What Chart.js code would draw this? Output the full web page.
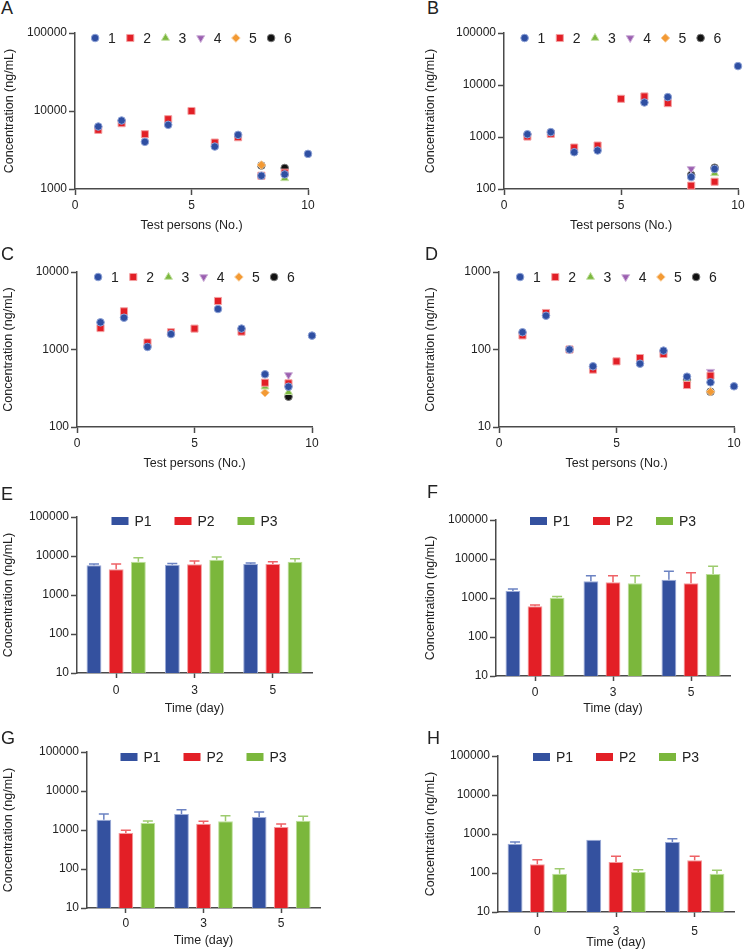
<!DOCTYPE html>
<html>
<head>
<meta charset="utf-8">
<script src="https://cdn.jsdelivr.net/npm/chart.js@4.4.1/dist/chart.umd.min.js"></script>
<style>
  body { margin: 0; background: #fff; width: 745px; height: 951px; position: relative; overflow: hidden;
         font-family: "Liberation Sans", Arial, sans-serif; }
  .box { position: absolute; }
  .tag { position: absolute; font-size: 18px; line-height: 18px; color: #222; }
</style>
</head>
<body>
<script>
'use strict';
// ---- data ----
let persons = [1, 2, 3, 4, 5, 6, 7, 8, 9, 10];
let seriesNames = ['1', '2', '3', '4', '5', '6'];
let xTicks = [0, 5, 10];

// panel A
let a1 = [6320, 7550, 4020, 6640, null, 3500, 4940, 1480, 1540, 2820];
let a2 = [5730, 6980, 5040, 7850, 10000, 3940, 4610, 1480, 1620, null];
let a3 = [null, null, null, null, null, null, null, null, 1370, null];
let a4 = [null, null, null, null, null, null, null, null, null, null];
let a5 = [null, null, null, null, null, null, null, 2030, null, null];
let a6 = [null, null, null, null, null, null, null, 2000, 1860, null];
let yTicksA = [1000, 10000, 100000];

// panel B
let b1 = [1130, 1240, 510, 550, null, 4610, 5850, 170, 243, 23100];
let b2 = [1020, 1150, 627, 685, 5430, 6020, 4480, 116, 138, null];
let b3 = [null, null, null, null, null, null, null, null, 200, null];
let b4 = [null, null, null, null, null, null, null, 243, null, null];
let b5 = [null, null, null, null, null, null, null, null, null, null];
let b6 = [null, null, null, null, null, null, null, 186, 257, null];
let yTicksB = [100, 1000, 10000, 100000];

// panel C
let c1 = [2240, 2570, 1080, 1580, null, 3330, 1860, 479, 331, 1510];
let c2 = [1890, 3110, 1230, 1670, 1860, 4230, 1700, 373, 366, null];
let c3 = [null, null, null, null, null, null, null, 331, 281, null];
let c4 = [null, null, null, null, null, null, null, null, 469, null];
let c5 = [null, null, null, null, null, null, null, 277, null, null];
let c6 = [null, null, null, null, null, null, null, null, 246, null];
let yTicksC = [100, 1000, 10000];

// panel D
let d1 = [167, 273, 100, 60.7, null, 65.6, 96.6, 44.6, 37.7, 33.5];
let d2 = [152, 296, 100, 55, 70.3, 77.6, 87.5, 34.8, 45.9, null];
let d3 = [null, null, null, null, null, null, null, 40.4, null, null];
let d4 = [null, null, null, null, null, null, null, null, 51.7, null];
let d5 = [null, null, null, null, null, null, null, null, 28.5, null];
let d6 = [null, null, null, null, null, null, null, 40.4, 28.5, null];
let yTicksD = [10, 100, 1000];

// bar panels
let days = ['0', '3', '5'];
let groupNames = ['P1', 'P2', 'P3'];
let yTicksBar = [10, 100, 1000, 10000, 100000];

let eP1 = [5770, 5940, 6240], eP1sd = [470, 500, 410];
let eP2 = [4550, 6100, 6240], eP2sd = [1690, 1350, 920];
let eP3 = [7160, 8050, 7160], eP3sd = [1900, 1370, 1390];

let fP1 = [1510, 2670, 2950], fP1sd = [190, 1070, 1880];
let fP2 = [611, 2520, 2380], fP2sd = [51, 1220, 2080];
let fP3 = [1020, 2380, 4120], fP3sd = [80, 1360, 2370];

let gP1 = [1840, 2570, 2160], gP1sd = [730, 750, 740];
let gP2 = [838, 1450, 1190], gP2sd = [142, 220, 240];
let gP3 = [1510, 1670, 1730], gP3sd = [190, 660, 510];

let hP1 = [565, 716, 624], hP1sd = [59, 0, 135];
let hP2 = [167, 191, 211], hP2sd = [53, 76, 56];
let hP3 = [96, 106, 96], hP3sd = [33, 16, 21];

// ---- styles ----
const AXIS = '#4a4a4a';
const TXT = '#222';
const FONT = '"Liberation Sans", Arial, sans-serif';
let ptStyle = ['circle', 'rect', 'triangle', 'triangle', 'rectRot', 'circle'];
let ptRot = [0, 0, 0, 180, 0, 0];
let ptRad = [3.8, 5, 4.6, 4.6, 4.3, 3.8];
let ptFill = ['#2f4fa2', '#e21f26', '#7cb83f', '#9b5fb0', '#f39a34', '#111111'];
let ptEdge = ['#8ea2d6', '#f3a0a2', '#c4e0a4', '#cdb0d8', '#f8cc9a', '#777777'];
let barFill = ['#34519f', '#e31f26', '#7bb73c'];
let barEdge = ['#9aaad8', '#f49a9c', '#bde09a'];
let errCol = ['#6b82c2', '#ee6266', '#9dcb6e'];

Chart.defaults.font.family = FONT;
Chart.defaults.color = TXT;

const insideLegend = {
  id: 'insideLegend',
  afterDraw(chart, args, o) {
    const ctx = chart.ctx, area = chart.chartArea;
    const sets = chart.data.datasets;
    const span = o.markW + (sets.length - 1) * o.pitch + o.textDx - o.markW / 2 + o.textW;
    const x0 = (area.left + area.right) / 2 - span / 2 + o.markW / 2;
    const y = area.top + o.dy;
    ctx.save();
    ctx.font = '14px ' + FONT;
    ctx.textBaseline = 'middle';
    ctx.textAlign = 'left';
    sets.forEach((ds, i) => {
      const x = x0 + i * o.pitch;
      ctx.fillStyle = ds.backgroundColor;
      ctx.strokeStyle = ds.borderColor;
      ctx.lineWidth = 1;
      if (o.kind === 'bar') {
        ctx.fillRect(x - 8.5, y - 4, 17, 8);
      } else {
        Chart.helpers.drawPoint(ctx, {pointStyle: ds.pointStyle, rotation: ds.pointRotation || 0,
          radius: ds.pointRadius, borderWidth: 1}, x, y);
      }
      ctx.fillStyle = TXT;
      ctx.fillText(ds.label, x + o.textDx, y + 1);
    });
    ctx.restore();
  }
};

const errorBars = {
  id: 'errorBars',
  afterDatasetsDraw(chart) {
    const ctx = chart.ctx, yS = chart.scales.y;
    chart.data.datasets.forEach((ds, i) => {
      if (!ds.sd) return;
      const meta = chart.getDatasetMeta(i);
      ctx.save();
      ctx.strokeStyle = ds.errColor;
      ctx.lineWidth = 1.5;
      meta.data.forEach((bar, j) => {
        if (!ds.sd[j]) return;
        const yTop = yS.getPixelForValue(ds.data[j] + ds.sd[j]);
        ctx.beginPath();
        ctx.moveTo(bar.x, bar.y);
        ctx.lineTo(bar.x, yTop);
        ctx.moveTo(bar.x - 5, yTop);
        ctx.lineTo(bar.x + 5, yTop);
        ctx.stroke();
      });
      ctx.restore();
    });
  }
};

function place(g) {
  g.cl = Math.round(g.yTC - 7.5);
  g.ct = g.T - 12;
  g.cr = Math.min(g.R + 14, 745);
  g.cb = Math.round(g.xTC + 7.5);
  const div = document.createElement('div');
  div.className = 'box';
  div.style.left = g.cl + 'px';
  div.style.top = g.ct + 'px';
  div.style.width = (g.cr - g.cl) + 'px';
  div.style.height = (g.cb - g.ct) + 'px';
  const cv = document.createElement('canvas');
  cv.width = g.cr - g.cl;
  cv.height = g.cb - g.ct;
  div.appendChild(cv);
  document.body.appendChild(div);
  const tag = document.createElement('div');
  tag.className = 'tag';
  tag.textContent = g.tag;
  tag.style.left = g.tagX + 'px';
  tag.style.top = g.tagY + 'px';
  document.body.appendChild(tag);
  return cv;
}

function yAxis(g, ticks) {
  return {
    type: 'logarithmic', min: ticks[0], max: ticks[ticks.length - 1],
    border: {display: true, color: AXIS, width: 1.5},
    grid: {display: true, drawOnChartArea: false, drawTicks: true, tickLength: 6, tickColor: AXIS, tickWidth: 1.5},
    ticks: {font: {size: 12}, color: TXT, padding: 2, autoSkip: false, callback: v => String(v)},
    afterBuildTicks: s => { s.ticks = ticks.map(v => ({value: v})); },
    afterFit: s => { s.width = g.L - g.cl; s.paddingTop = 0; s.paddingBottom = 0; },
    title: {display: true, text: 'Concentration (ng/mL)', font: {size: 12.5}, color: TXT, padding: 0}
  };
}

function xCommon(g, tl, titleText) {
  return {
    border: {display: true, color: AXIS, width: 1.5},
    grid: {display: true, drawOnChartArea: false, drawTicks: true, tickLength: tl, tickColor: AXIS, tickWidth: 1.5, offset: false},
    ticks: {font: {size: 12}, color: TXT, padding: Math.max(0, g.xLC - g.B - tl - 6), autoSkip: false, maxRotation: 0,
      callback: function (v, i) { return this.type === 'category' ? this.getLabelForValue(v) : String(v); }},
    afterFit: s => { s.height = g.cb - g.B; s.paddingLeft = 0; s.paddingRight = 0; },
    title: {display: true, text: titleText, font: {size: 12.5}, color: TXT, padding: 0}
  };
}

function scatterPanel(g, series, yTicks) {
  const cv = place(g);
  const datasets = series.map((arr, k) => ({
    label: seriesNames[k],
    data: persons.map((p, i) => ({x: p, y: arr[i]})).filter(d => d.y !== null),
    pointStyle: ptStyle[k], pointRotation: ptRot[k], pointRadius: ptRad[k], pointHoverRadius: ptRad[k],
    backgroundColor: ptFill[k], borderColor: ptEdge[k], borderWidth: 1, clip: false
  }));
  const x = Object.assign({type: 'linear', min: 0, max: 10,
    afterBuildTicks: s => { s.ticks = xTicks.map(v => ({value: v})); }}, xCommon(g, 6, 'Test persons (No.)'));
  new Chart(cv, {
    type: 'scatter',
    data: {datasets},
    options: {
      responsive: false, animation: false, devicePixelRatio: 1,
      layout: {padding: {top: 12, right: g.cr - g.R, bottom: 0, left: 0}},
      scales: {x, y: yAxis(g, yTicks)},
      plugins: {legend: {display: false}, tooltip: {enabled: false},
        insideLegend: {kind: 'pt', dy: g.legDy, pitch: 35.2, markW: 8, textDx: 13, textW: 7.8}}
    },
    plugins: [insideLegend]
  });
}

function barPanel(g, means, sds) {
  const cv = place(g);
  const datasets = means.map((arr, k) => ({
    label: groupNames[k], data: arr, sd: sds[k], errColor: errCol[k],
    backgroundColor: barFill[k], borderColor: barEdge[k], borderWidth: 1,
    barPercentage: 0.67, categoryPercentage: 0.85
  }));
  const x = Object.assign({type: 'category', offset: true}, xCommon(g, 5, 'Time (day)'));
  new Chart(cv, {
    type: 'bar',
    data: {labels: days, datasets},
    options: {
      responsive: false, animation: false, devicePixelRatio: 1,
      layout: {padding: {top: 12, right: g.cr - g.R, bottom: 0, left: 0}},
      scales: {x, y: yAxis(g, yTicksBar)},
      plugins: {legend: {display: false}, tooltip: {enabled: false},
        insideLegend: {kind: 'bar', dy: g.legDy, pitch: 63, markW: 17, textDx: 14.5, textW: 17}}
    },
    plugins: [errorBars, insideLegend]
  });
}

scatterPanel({tag: 'A', tagX: 1, tagY: -1, L: 75, R: 308, T: 33, B: 189, yTC: 9, xTC: 225, xLC: 204, legDy: 5},
  [a1, a2, a3, a4, a5, a6], yTicksA);
scatterPanel({tag: 'B', tagX: 427, tagY: -1, L: 504, R: 738, T: 33, B: 189, yTC: 430, xTC: 225, xLC: 204, legDy: 5},
  [b1, b2, b3, b4, b5, b6], yTicksB);
scatterPanel({tag: 'C', tagX: 1, tagY: 245, L: 77, R: 312, T: 272, B: 427, yTC: 8, xTC: 463, xLC: 442, legDy: 5},
  [c1, c2, c3, c4, c5, c6], yTicksC);
scatterPanel({tag: 'D', tagX: 425, tagY: 245, L: 499, R: 734, T: 272, B: 427, yTC: 430, xTC: 463, xLC: 442, legDy: 5},
  [d1, d2, d3, d4, d5, d6], yTicksD);

barPanel({tag: 'E', tagX: 1, tagY: 485, L: 77, R: 312, T: 517, B: 673, yTC: 8, xTC: 708, xLC: 689, legDy: 4},
  [eP1, eP2, eP3], [eP1sd, eP2sd, eP3sd]);
barPanel({tag: 'F', tagX: 427, tagY: 483, L: 496, R: 730, T: 520, B: 676, yTC: 430, xTC: 708, xLC: 691, legDy: 1},
  [fP1, fP2, fP3], [fP1sd, fP2sd, fP3sd]);
barPanel({tag: 'G', tagX: 1, tagY: 729, L: 87, R: 320, T: 752, B: 908, yTC: 8, xTC: 940, xLC: 922, legDy: 5},
  [gP1, gP2, gP3], [gP1sd, gP2sd, gP3sd]);
barPanel({tag: 'H', tagX: 427, tagY: 729, L: 498, R: 734, T: 756, B: 912, yTC: 430, xTC: 942, xLC: 930, legDy: 1},
  [hP1, hP2, hP3], [hP1sd, hP2sd, hP3sd]);
</script>
</body>
</html>
